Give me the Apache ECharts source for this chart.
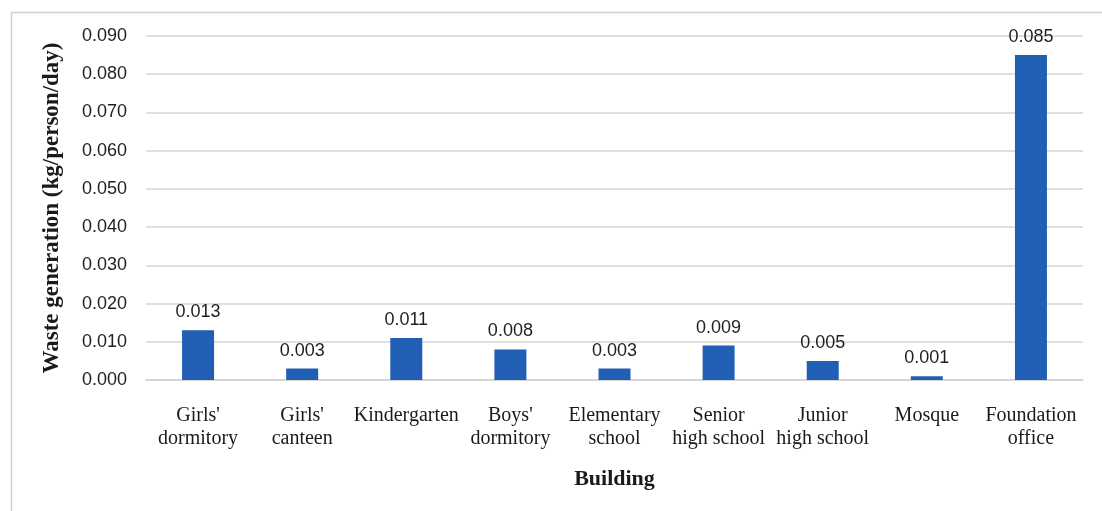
<!DOCTYPE html>
<html>
<head>
<meta charset="utf-8">
<script src="https://cdn.jsdelivr.net/npm/echarts@6/dist/echarts.min.js"></script>
<style>
  html, body { margin: 0; padding: 0; background: #fff; }
  #chart { width: 1102px; height: 511px; }
</style>
</head>
<body>
<div id="chart"></div>
<script>
// Buildings on campus and their daily waste per person
const buildings = [
  "Girls'\ndormitory", "Girls'\ncanteen", "Kindergarten", "Boys'\ndormitory",
  "Elementary\nschool", "Senior\nhigh school", "Junior\nhigh school", "Mosque",
  "Foundation\noffice"
];
const wastePerPerson = [0.013, 0.003, 0.011, 0.008, 0.003, 0.009, 0.005, 0.001, 0.085];
const yTicks = { min: 0, max: 0.09, interval: 0.01 };

const chart = echarts.init(document.getElementById('chart'), null, { renderer: 'canvas' });

chart.setOption({
  animation: false,
  backgroundColor: '#ffffff',
  graphic: [{
    type: 'rect',
    shape: { x: 11.5, y: 12.5, width: 1100, height: 520 },
    style: { fill: 'none', stroke: '#d0d0d0', lineWidth: 1.5 },
    silent: true
  }],
  grid: { left: 146, right: 19, top: 36, bottom: 131, containLabel: false },
  xAxis: {
    type: 'category',
    data: buildings,
    name: 'Building',
    nameLocation: 'middle',
    nameGap: 88,
    nameTextStyle: {
      fontFamily: 'Liberation Serif', fontWeight: 'bold', fontSize: 22, color: '#1a1a1a'
    },
    axisLine: { show: true, lineStyle: { color: '#d4d4d4', width: 1.5 } },
    axisTick: { show: false },
    axisLabel: {
      interval: 0,
      margin: 24,
      fontFamily: 'Liberation Serif',
      fontSize: 20,
      lineHeight: 23,
      color: '#1a1a1a'
    }
  },
  yAxis: {
    type: 'value',
    min: yTicks.min,
    max: yTicks.max,
    interval: yTicks.interval,
    name: 'Waste generation (kg/person/day)',
    nameLocation: 'middle',
    nameGap: 82,
    nameRotate: 90,
    nameTextStyle: {
      fontFamily: 'Liberation Serif', fontWeight: 'bold', fontSize: 23, color: '#1a1a1a'
    },
    axisLine: { show: false },
    axisTick: { show: false },
    splitLine: { lineStyle: { color: '#d4d4d4', width: 1.5 } },
    axisLabel: {
      margin: 19,
      fontFamily: 'Liberation Sans',
      fontSize: 18,
      color: '#1f1f1f',
      formatter: v => v.toFixed(3)
    }
  },
  series: [{
    type: 'bar',
    data: wastePerPerson,
    barWidth: 32,
    itemStyle: { color: '#215fb5' },
    label: {
      show: true,
      position: 'top',
      distance: 9,
      fontFamily: 'Liberation Sans',
      fontSize: 18,
      color: '#1f1f1f',
      formatter: p => p.value.toFixed(3)
    }
  }]
});
</script>
</body>
</html>
